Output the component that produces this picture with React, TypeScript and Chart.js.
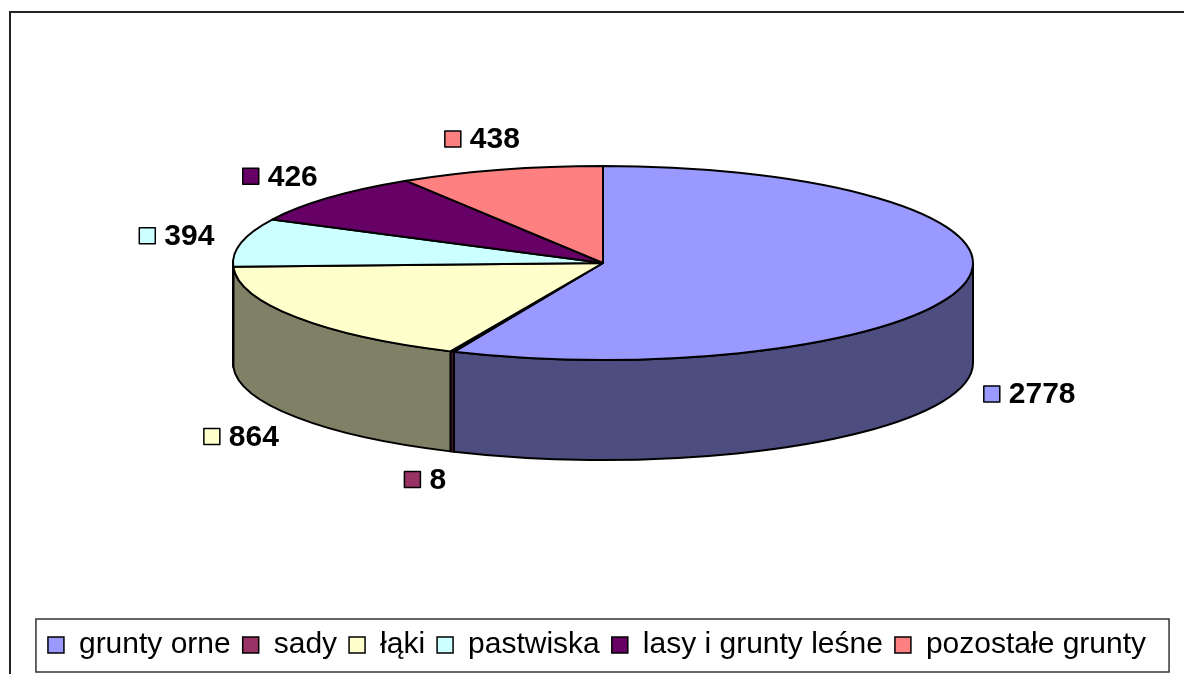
import React, { useEffect, useRef } from "react";
import { Chart, registerables } from "chart.js";

Chart.register(...registerables);

const categories = ["grunty orne", "sady", "łąki", "pastwiska", "lasy i grunty leśne", "pozostałe grunty"];
const values = [2778, 8, 864, 394, 426, 438];
const topColors = ["#9999FF", "#993366", "#FFFFCC", "#CCFFFF", "#660066", "#FF8080"];
const sideColors = ["#4D4D80", "#4D1A33", "#808066", "#668080", "#330033", "#804040"];

const FONT = "'Liberation Sans', Arial, Helvetica, sans-serif";

const framePlugin = {
  id: "frame",
  beforeDraw(chart: any) {
    const ctx = chart.ctx;
    ctx.save();
    ctx.fillStyle = "#ffffff";
    ctx.fillRect(0, 0, chart.width, chart.height);
    ctx.fillStyle = "#222222";
    ctx.fillRect(9, 11, 2, chart.height);
    ctx.fillRect(9, 11, chart.width, 2);
    ctx.restore();
  },
  afterDraw(chart: any) {
    const legend = chart.legend;
    if (!legend || !legend.legendHitBoxes || !legend.legendHitBoxes.length) return;
    const hb = legend.legendHitBoxes;
    let minL = Infinity;
    let maxR = -Infinity;
    hb.forEach((h: any) => {
      minL = Math.min(minL, h.left);
      maxR = Math.max(maxR, h.left + h.width);
    });
    const ctx = chart.ctx;
    ctx.save();
    ctx.strokeStyle = "#333333";
    ctx.lineWidth = 1.5;
    ctx.strokeRect(minL - 12, legend.top + 1, maxR - minL + 35, 53);
    ctx.restore();
  },
};

const pie3dPlugin = {
  id: "pie3d",
  beforeDatasetsDraw(chart: any, _args: any, opts: any) {
    const meta = chart.getDatasetMeta(0);
    const area = chart.chartArea;
    const rx = opts.rx;
    const ry = opts.ry;
    const depth = opts.depth;
    const cx = opts.cx;
    const cy = area.top + ry;
    const ctx = chart.ctx;
    const ds = chart.data.datasets[0];
    ctx.save();
    ctx.lineWidth = 2;
    ctx.strokeStyle = "#000000";
    ctx.lineJoin = "round";

    const arcs = meta.data.map((el: any) => el.getProps(["startAngle", "endAngle"], true));

    // side walls (front half only)
    arcs.forEach((a: any, i: number) => {
      const a1 = Math.max(a.startAngle, 0);
      const a2 = Math.min(a.endAngle, Math.PI);
      if (a2 <= a1) return;
      ctx.beginPath();
      ctx.ellipse(cx, cy, rx, ry, 0, a1, a2, false);
      ctx.lineTo(cx + rx * Math.cos(a2), cy + ry * Math.sin(a2) + depth);
      ctx.ellipse(cx, cy + depth, rx, ry, 0, a2, a1, true);
      ctx.closePath();
      ctx.fillStyle = opts.sideColors[i];
      ctx.fill();
      ctx.stroke();
    });

    // top faces
    arcs.forEach((a: any, i: number) => {
      ctx.beginPath();
      ctx.moveTo(cx, cy);
      ctx.ellipse(cx, cy, rx, ry, 0, a.startAngle, a.endAngle, false);
      ctx.closePath();
      ctx.fillStyle = ds.backgroundColor[i];
      ctx.fill();
      ctx.stroke();
    });

    // data labels
    ctx.font = "bold 30px " + FONT;
    ctx.textBaseline = "middle";
    arcs.forEach((a: any, i: number) => {
      const mid = (a.startAngle + a.endAngle) / 2;
      const s = Math.sin(mid);
      const lx = cx + (rx + opts.labelDx) * Math.cos(mid);
      const ly = cy + (ry + (s > 0 ? opts.labelDy : opts.labelDyTop)) * s + (s > 0 ? depth + 6 : 0);
      const text = String(ds.data[i]);
      const tw = ctx.measureText(text).width;
      const box = 16;
      const gap = 9;
      const gw = box + gap + tw;
      const left = lx - gw / 2;
      ctx.fillStyle = ds.backgroundColor[i];
      ctx.lineWidth = 1.5;
      ctx.fillRect(left, ly - box / 2, box, box);
      ctx.strokeRect(left, ly - box / 2, box, box);
      ctx.fillStyle = "#000000";
      ctx.textAlign = "left";
      ctx.fillText(text, left + box + gap, ly + 1);
    });

    ctx.restore();
    return false;
  },
};

export default function App() {
  const canvasRef = useRef<HTMLCanvasElement | null>(null);

  useEffect(() => {
    if (!canvasRef.current) return;
    const chart = new Chart(canvasRef.current, {
      type: "pie",
      data: {
        labels: categories,
        datasets: [
          {
            data: values,
            backgroundColor: topColors,
            borderColor: "#000000",
            borderWidth: 1.5,
          },
        ],
      },
      options: {
        responsive: false,
        animation: false,
        devicePixelRatio: 1,
        events: [],
        layout: { padding: { left: 10, right: 0, top: 166, bottom: 4 } },
        plugins: {
          tooltip: { enabled: false },
          title: { display: false },
          legend: {
            display: true,
            position: "bottom",
            labels: {
              color: "#000000",
              font: { family: FONT, size: 30 },
              boxWidth: 16,
              boxHeight: 16,
              padding: 12,
            },
          },
          pie3d: {
            cx: 603,
            rx: 370,
            ry: 97,
            depth: 100,
            sideColors: sideColors,
            labelDx: 66,
            labelDy: 24,
            labelDyTop: 32,
          },
        } as any,
      },
      plugins: [framePlugin, pie3dPlugin],
    });
    return () => chart.destroy();
  }, []);

  return (
    <div style={{ position: "fixed", left: 0, top: 0, width: 1184, height: 674, background: "#fff" }}>
      <canvas ref={canvasRef} width={1184} height={674} style={{ display: "block" }} />
    </div>
  );
}
